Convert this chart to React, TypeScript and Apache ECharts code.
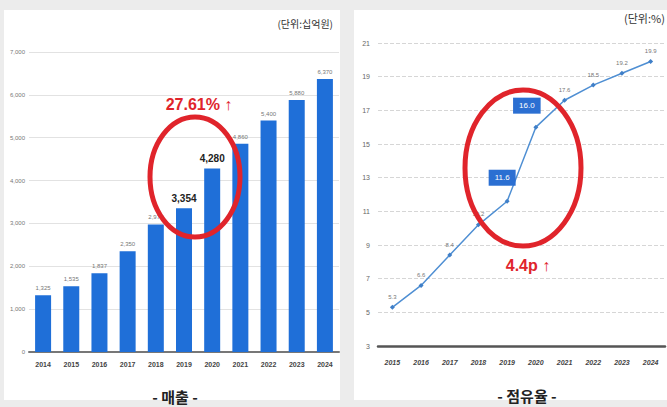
import React, { useEffect, useRef } from "react";
import * as echarts from "echarts";

const salesYears = ["2014", "2015", "2016", "2017", "2018", "2019", "2020", "2021", "2022", "2023", "2024"];
const salesValues = [1325, 1535, 1837, 2350, 2977, 3354, 4280, 4860, 5400, 5880, 6370];
const salesHighlight = ["2019", "2020"];

const shareYears = ["2015", "2016", "2017", "2018", "2019", "2020", "2021", "2022", "2023", "2024"];
const shareValues = [5.3, 6.6, 8.4, 10.2, 11.6, 16.0, 17.6, 18.5, 19.2, 19.9];
const shareHighlight = ["2019", "2020"];

const salesAxis = { min: 0, max: 7000, interval: 1000 };
const shareAxis = { min: 3, max: 21, interval: 2 };

const KR = '"Noto Sans CJK KR", "Noto Sans", sans-serif';
const LAT = '"Liberation Sans", Arial, sans-serif';

export default function App() {
  const ref = useRef<HTMLDivElement>(null);
  useEffect(() => {
    if (!ref.current) return;
    const chart = echarts.init(ref.current, null, { renderer: "svg" });
    const barData = salesValues.map((v, i) => {
      const hl = salesHighlight.includes(salesYears[i]);
      return {
        value: v,
        label: hl
          ? { show: true, position: "top", distance: 5, fontSize: 10, fontWeight: "bold", color: "#222", fontFamily: LAT }
          : { show: true, position: "top", distance: 4, fontSize: 6, color: "#777", fontFamily: LAT },
      };
    });
    const lineData = shareValues.map((v, i) => {
      const hl = shareHighlight.includes(shareYears[i]);
      if (!hl) return { value: v };
      return {
        value: v,
        label: {
          show: true,
          position: "top",
          offset: i === shareYears.indexOf(shareHighlight[0]) ? [-5, -8] : [-9, -6],
          backgroundColor: "#2b6fd2",
          color: "#fff",
          fontSize: 8,
          padding: [4, 6],
          fontFamily: LAT,
        },
      };
    });
    chart.setOption({
      animation: false,
      backgroundColor: "#ececec",
      graphic: [
        { type: "rect", z: -100, shape: { x: 4, y: 10, width: 336, height: 390 }, style: { fill: "#ffffff" } },
        { type: "rect", z: -100, shape: { x: 354, y: 10, width: 313, height: 390 }, style: { fill: "#ffffff" } },
        { type: "text", z: 100, style: { x: 333, y: 23, text: "(단위:십억원)", align: "right", verticalAlign: "middle", fontSize: 10, fontFamily: KR, fill: "#333" } },
        { type: "text", z: 100, style: { x: 624, y: 18, text: "(단위:%)", align: "left", verticalAlign: "middle", fontSize: 11, fontFamily: KR, fill: "#333" } },
        { type: "ellipse", z: 100, shape: { cx: 195, cy: 177, rx: 45, ry: 60 }, style: { fill: "none", stroke: "#e0242b", lineWidth: 5 } },
        { type: "ellipse", z: 100, shape: { cx: 523, cy: 168, rx: 58, ry: 78 }, style: { fill: "none", stroke: "#e0242b", lineWidth: 5 } },
        { type: "text", z: 100, style: { x: 199, y: 104, text: "27.61% ↑", align: "center", verticalAlign: "middle", fontSize: 16, fontWeight: "bold", fontFamily: LAT, fill: "#e0242b" } },
        { type: "text", z: 100, style: { x: 528, y: 265, text: "4.4p ↑", align: "center", verticalAlign: "middle", fontSize: 16, fontWeight: "bold", fontFamily: LAT, fill: "#e0242b" } },
        { type: "text", z: 100, style: { x: 175, y: 396, text: "- 매출 -", align: "center", verticalAlign: "middle", fontSize: 15, fontWeight: "bold", fontFamily: KR, fill: "#222" } },
        { type: "text", z: 100, style: { x: 527, y: 395, text: "- 점유율 -", align: "center", verticalAlign: "middle", fontSize: 15, fontWeight: "bold", fontFamily: KR, fill: "#222" } },
      ],
      grid: [
        { left: 29, right: 328, top: 52, bottom: 55 },
        { left: 378, right: 2, top: 43, bottom: 61 },
      ],
      xAxis: [
        {
          type: "category",
          gridIndex: 0,
          data: salesYears,
          axisLine: { lineStyle: { color: "#777", width: 2 } },
          axisTick: { show: false },
          axisLabel: { fontSize: 7, fontWeight: "bold", color: "#444", margin: 9, fontFamily: LAT, interval: 0 },
        },
        {
          type: "category",
          gridIndex: 1,
          data: shareYears,
          axisLine: { lineStyle: { color: "#555", width: 2.5 } },
          axisTick: { show: false },
          axisLabel: { fontSize: 7, fontWeight: "bold", fontStyle: "italic", color: "#444", margin: 13, fontFamily: LAT, interval: 0 },
        },
      ],
      yAxis: [
        {
          type: "value",
          gridIndex: 0,
          ...salesAxis,
          axisLine: { show: false },
          axisTick: { show: false },
          axisLabel: { fontSize: 6, color: "#777", margin: 4, fontFamily: LAT, formatter: (v: number) => v.toLocaleString("en-US") },
          splitLine: { lineStyle: { color: "#e2e2e2", width: 1 } },
        },
        {
          type: "value",
          gridIndex: 1,
          ...shareAxis,
          axisLine: { show: false },
          axisTick: { show: false },
          axisLabel: { fontSize: 7, color: "#666", margin: 8, fontFamily: LAT },
          splitLine: { lineStyle: { color: "#d6d6d6", width: 1, type: "dashed" } },
        },
      ],
      series: [
        {
          type: "bar",
          xAxisIndex: 0,
          yAxisIndex: 0,
          data: barData,
          barWidth: 16,
          itemStyle: { color: "#1f6fd8" },
          label: { show: true, formatter: (p: any) => Number(p.value).toLocaleString("en-US") },
        },
        {
          type: "line",
          xAxisIndex: 1,
          yAxisIndex: 1,
          data: lineData,
          symbol: "diamond",
          symbolSize: 5,
          lineStyle: { color: "#4f8fd3", width: 1.5 },
          itemStyle: { color: "#3f7fc8" },
          label: { show: true, position: "top", distance: 5, fontSize: 6, color: "#777", fontFamily: LAT, formatter: (p: any) => Number(p.value).toFixed(1) },
        },
      ],
    });
    return () => chart.dispose();
  }, []);
  return <div ref={ref} style={{ position: "fixed", left: 0, top: 0, width: 667, height: 407 }} />;
}
